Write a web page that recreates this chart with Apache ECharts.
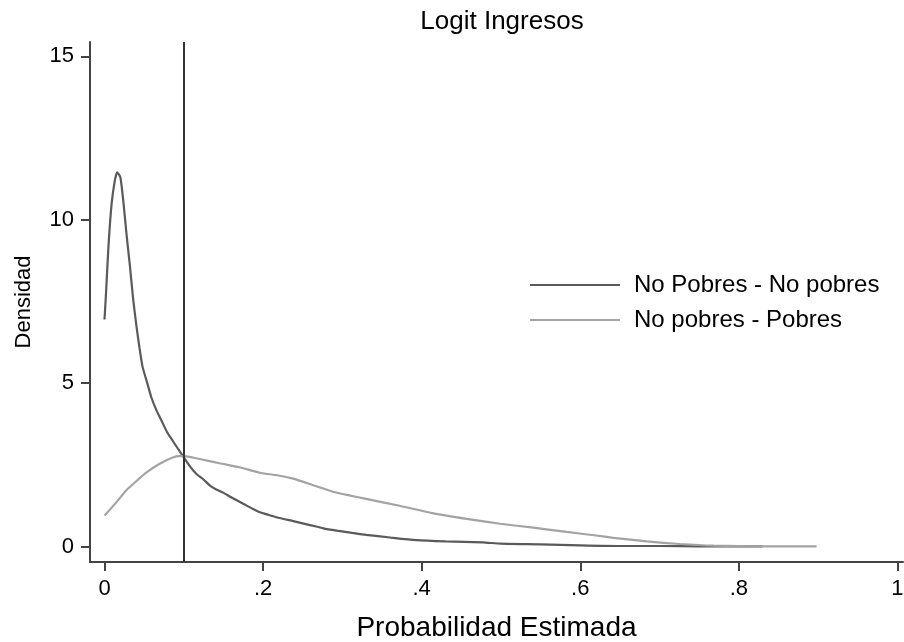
<!DOCTYPE html>
<html>
<head>
<meta charset="utf-8">
<script src="https://cdn.jsdelivr.net/npm/echarts@6/dist/echarts.min.js"></script>
<style>html,body{margin:0;padding:0;background:#fff;}#c{width:904px;height:642px;}</style>
</head>
<body>
<div id="c"></div>
<script>
const titleText = "Logit Ingresos";
const seriesNames = ["No Pobres - No pobres", "No pobres - Pobres"];
const xTicks = [0, 0.2, 0.4, 0.6, 0.8, 1];
const yTicks = [0, 5, 10, 15];
const cutoff = 0.1;

const noPobresX = [0,0.002,0.005,0.009,0.013,0.016,0.02,0.024,0.028,0.032,0.036,0.04,0.044,0.048,0.054,0.059,0.065,0.072,0.079,0.086,0.093,0.1,0.108,0.116,0.125,0.133,0.141,0.149,0.162,0.175,0.186,0.196,0.207,0.217,0.238,0.259,0.276,0.293,0.31,0.33,0.36,0.393,0.43,0.477,0.5,0.55,0.6,0.65,0.7,0.75,0.83];
const noPobresY = [6.95,7.8,9.2,10.5,11.2,11.45,11.3,10.5,9.5,8.6,7.6,6.8,6.1,5.5,5.0,4.57,4.2,3.85,3.5,3.24,2.98,2.73,2.45,2.22,2.05,1.87,1.75,1.66,1.48,1.31,1.17,1.05,0.97,0.90,0.78,0.66,0.56,0.49,0.43,0.36,0.28,0.2,0.16,0.13,0.09,0.07,0.04,0.02,0.02,0.01,0.01];

const pobresX = [0,0.013,0.027,0.04,0.053,0.069,0.086,0.095,0.103,0.12,0.145,0.17,0.196,0.221,0.238,0.263,0.288,0.31,0.33,0.372,0.415,0.457,0.499,0.541,0.583,0.62,0.642,0.684,0.726,0.768,0.83,0.898];
const pobresY = [0.95,1.3,1.71,2.0,2.27,2.53,2.73,2.77,2.76,2.68,2.55,2.43,2.26,2.17,2.08,1.88,1.68,1.56,1.46,1.25,1.02,0.85,0.70,0.58,0.45,0.34,0.27,0.16,0.08,0.03,0.01,0.01];

const zip = (xs, ys) => xs.map((x, i) => [x, ys[i]]);
const font = "'Liberation Sans', Arial, sans-serif";

const chart = echarts.init(document.getElementById('c'), null, {renderer: 'canvas'});
chart.setOption({
  animation: false,
  backgroundColor: '#fff',
  title: {
    text: titleText, left: 497, top: 4, textAlign: 'center',
    textStyle: {fontFamily: font, fontSize: 26, fontWeight: 'normal', color: '#000'}
  },
  legend: {
    orient: 'vertical', left: 530, top: 273, padding: 0,
    icon: 'rect', itemWidth: 90, itemHeight: 2, itemGap: 11,
    textStyle: {fontFamily: font, fontSize: 24, color: '#000', padding: [0, 0, 0, 9]},
    data: seriesNames
  },
  grid: {left: 90, top: 42, width: 813, height: 520, containLabel: false, outerBoundsMode: 'none'},
  xAxis: {
    type: 'value', min: -0.0183, max: 1.007,
    name: 'Probabilidad Estimada', nameLocation: 'middle', nameGap: 52,
    nameTextStyle: {fontFamily: font, fontSize: 28, color: '#000'},
    axisLine: {show: true, onZero: false, lineStyle: {color: '#444', width: 2}},
    axisTick: {show: true, length: 9, customValues: xTicks, lineStyle: {color: '#444', width: 2}},
    axisLabel: {
      customValues: xTicks, margin: 16,
      fontFamily: font, fontSize: 22, color: '#000',
      formatter: v => v === 0 ? '0' : (v === 1 ? '1' : String(v).replace(/^0/, ''))
    },
    splitLine: {show: false}
  },
  yAxis: {
    type: 'value', min: -0.47, max: 15.44,
    name: 'Densidad', nameLocation: 'middle', nameGap: 55, nameRotate: 90,
    nameTextStyle: {fontFamily: font, fontSize: 22, color: '#000'},
    axisLine: {show: true, onZero: false, lineStyle: {color: '#444', width: 2}},
    axisTick: {show: true, length: 9, customValues: yTicks, lineStyle: {color: '#444', width: 2}},
    axisLabel: {customValues: yTicks, margin: 16, fontFamily: font, fontSize: 22, color: '#000'},
    splitLine: {show: false}
  },
  series: [
    {
      name: seriesNames[0], type: 'line', symbol: 'none', smooth: 0.2,
      data: zip(noPobresX, noPobresY),
      lineStyle: {color: '#5a5a5a', width: 2.2}, itemStyle: {color: '#5a5a5a'},
      markLine: {
        silent: true, symbol: 'none', label: {show: false},
        lineStyle: {color: '#333', width: 2, type: 'solid'},
        data: [{xAxis: cutoff}]
      }
    },
    {
      name: seriesNames[1], type: 'line', symbol: 'none', smooth: 0.2,
      data: zip(pobresX, pobresY),
      lineStyle: {color: '#a3a3a3', width: 2.2}, itemStyle: {color: '#a3a3a3'}
    }
  ]
});
</script>
</body>
</html>
